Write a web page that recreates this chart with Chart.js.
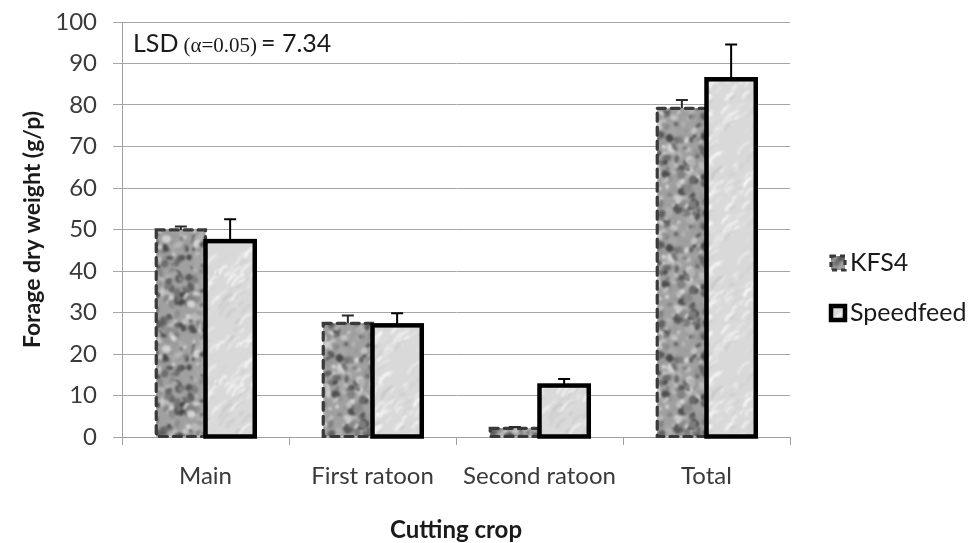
<!DOCTYPE html>
<html>
<head>
<meta charset="utf-8">
<script src="https://cdn.jsdelivr.net/npm/chart.js@4.4.1/dist/chart.umd.min.js"></script>
<style>
  html, body { margin: 0; padding: 0; background: #fff; }
  #wrap { width: 968px; height: 543px; }
</style>
</head>
<body>
<div id="wrap"><canvas id="chart" width="968" height="543"></canvas></div>
<script>
const categories = ["Main", "First ratoon", "Second ratoon", "Total"];
const kfs4 = [49.9, 27.4, 2.1, 79.2];
const kfs4Err = [0.8, 1.9, 0.3, 2.0];
const speedfeed = [47.2, 26.9, 12.4, 86.2];
const speedfeedErr = [5.3, 2.9, 1.6, 8.4];
const yTicks = { min: 0, max: 100, step: 10 };

const FONT = "Lato, 'Noto Sans', sans-serif";

// small seeded generator so the textures come out the same every run
function rng(seed) {
  return () => {
    seed |= 0; seed = (seed + 0x6D2B79F5) | 0;
    let t = Math.imul(seed ^ (seed >>> 15), 1 | seed);
    t = (t + Math.imul(t ^ (t >>> 7), 61 | t)) ^ t;
    return ((t ^ (t >>> 14)) >>> 0) / 4294967296;
  };
}

function makeTexture(size, base, paint, blur) {
  const big = document.createElement("canvas");
  big.width = big.height = size * 3;
  const b = big.getContext("2d");
  b.fillStyle = base;
  b.fillRect(0, 0, size * 3, size * 3);
  paint(b, size);
  const tile = document.createElement("canvas");
  tile.width = tile.height = size;
  const t = tile.getContext("2d");
  t.filter = `blur(${blur}px)`;
  t.drawImage(big, -size, -size);
  return document.getElementById("chart").getContext("2d").createPattern(tile, "repeat");
}

// granite look for KFS4
const granite = makeTexture(110, "#a0a0a0", (c, s) => {
  const r = rng(7);
  for (let i = 0; i < 420; i++) {
    const x = r() * s, y = r() * s, rad = 1.8 + r() * 3.2;
    const g = Math.round(70 + r() * 150);
    const squash = 0.5 + r() * 0.5, rot = r() * 3;
    c.fillStyle = `rgb(${g},${g},${g})`;
    for (let dx = 0; dx < 3; dx++) for (let dy = 0; dy < 3; dy++) {
      c.beginPath();
      c.ellipse(x + dx * s, y + dy * s, rad, rad * squash, rot, 0, Math.PI * 2);
      c.fill();
    }
  }
}, 1.3);

// pale marble look for Speedfeed
const marble = makeTexture(110, "#d9d9d9", (c, s) => {
  const r = rng(21);
  for (let i = 0; i < 200; i++) {
    const x = r() * s, y = r() * s, len = 5 + r() * 14;
    const g = Math.round(195 + r() * 60);
    const w = 0.8 + r() * 1.8;
    c.strokeStyle = `rgb(${g},${g},${g})`;
    c.lineWidth = w;
    for (let dx = 0; dx < 3; dx++) for (let dy = 0; dy < 3; dy++) {
      c.beginPath();
      c.moveTo(x + dx * s, y + dy * s);
      c.quadraticCurveTo(x + dx * s + len * 0.2, y + dy * s - len * 0.6, x + dx * s + len * 0.7, y + dy * s - len * 0.7);
      c.stroke();
    }
  }
}, 0.9);

const borderStyles = [
  { color: "#3a3a3a", width: 3.2, dash: [8, 6], cap: "round" },
  { color: "#000000", width: 4.5, dash: [], cap: "butt" },
];
const errorSets = [kfs4Err, speedfeedErr];
const errColors = ["#2a2a2a", "#000000"];

const barDecor = {
  id: "barDecor",
  afterDatasetsDraw(chart) {
    const ctx = chart.ctx;
    const y = chart.scales.y;
    chart.data.datasets.forEach((ds, di) => {
      const meta = chart.getDatasetMeta(di);
      const st = borderStyles[di];
      meta.data.forEach((bar, i) => {
        const left = bar.x - bar.width / 2;
        ctx.save();
        ctx.strokeStyle = st.color;
        ctx.lineWidth = st.width;
        ctx.setLineDash(st.dash);
        ctx.lineCap = st.cap;
        ctx.lineJoin = "miter";
        ctx.strokeRect(left, bar.y, bar.width, bar.base - bar.y);
        ctx.restore();

        // error bar above the bar
        const top = y.getPixelForValue(ds.data[i] + errorSets[di][i]);
        ctx.save();
        ctx.strokeStyle = errColors[di];
        ctx.lineWidth = 2;
        ctx.beginPath();
        ctx.moveTo(bar.x, bar.y);
        ctx.lineTo(bar.x, top);
        ctx.moveTo(bar.x - 6, top);
        ctx.lineTo(bar.x + 6, top);
        ctx.stroke();
        ctx.restore();
      });
    });
  },
  afterDraw(chart) {
    const ctx = chart.ctx;
    const area = chart.chartArea;
    // LSD note in the corner
    ctx.save();
    ctx.fillStyle = "#1a1a1a";
    ctx.textBaseline = "alphabetic";
    let x = area.left + 11;
    const base = area.top + 30;
    ctx.font = `25px ${FONT}`;
    ctx.fillText("LSD", x, base);
    x += ctx.measureText("LSD").width + 5;
    ctx.font = `21px 'Liberation Serif', serif`;
    ctx.fillText("(α=0.05)", x, base);
    x += ctx.measureText("(α=0.05)").width + 4;
    ctx.font = `25px ${FONT}`;
    ctx.fillText("= 7.34", x, base);

    // legend
    const items = [
      { label: "KFS4", fill: granite, st: borderStyles[0], y: 263 },
      { label: "Speedfeed", fill: marble, st: borderStyles[1], y: 313 },
    ];
    items.forEach((it) => {
      const bx = 831, by = it.y - 7, s = 14;
      ctx.fillStyle = it.fill;
      ctx.fillRect(bx, by, s, s);
      ctx.strokeStyle = it.st.color;
      ctx.lineWidth = it.st.width;
      ctx.setLineDash(it.st.dash.length ? [5, 4] : []);
      ctx.strokeRect(bx, by, s, s);
      ctx.setLineDash([]);
      ctx.fillStyle = "#1a1a1a";
      ctx.font = `25px ${FONT}`;
      ctx.textBaseline = "middle";
      ctx.fillText(it.label, bx + s + 5, it.y);
    });
    ctx.restore();
  },
};

new Chart(document.getElementById("chart"), {
  type: "bar",
  data: {
    labels: categories,
    datasets: [
      { label: "KFS4", data: kfs4, backgroundColor: granite, borderWidth: 0 },
      { label: "Speedfeed", data: speedfeed, backgroundColor: marble, borderWidth: 0 },
    ],
  },
  options: {
    responsive: false,
    animation: false,
    events: [],
    layout: { padding: { top: 22, right: 178, left: 0, bottom: 0 } },
    datasets: { bar: { categoryPercentage: 0.59, barPercentage: 1 } },
    plugins: { legend: { display: false }, tooltip: { enabled: false } },
    scales: {
      x: {
        afterFit: (s) => { s.height = 106; },
        grid: { drawOnChartArea: false, tickLength: 8, color: "#a0a0a0", offset: true },
        border: { color: "#a0a0a0" },
        ticks: { color: "#3a3a3a", font: { family: FONT, size: 24 }, padding: 17, maxRotation: 0, autoSkip: false },
        title: { display: true, text: "Cutting crop", color: "#1a1a1a", font: { family: FONT, size: 24, weight: "bold", lineHeight: 1 }, padding: { top: 0, bottom: 1 } },
      },
      y: {
        min: yTicks.min,
        max: yTicks.max,
        afterFit: (s) => { s.width = 122; s.paddingTop = 0; },
        grid: { color: "#a6a6a6", tickLength: 9, drawTicks: true },
        border: { color: "#a0a0a0" },
        ticks: { stepSize: yTicks.step, color: "#3a3a3a", font: { family: FONT, size: 24 }, padding: 16 },
        title: { display: true, text: "Forage dry weight (g/p)", color: "#1a1a1a", font: { family: FONT, size: 23, weight: "bold", lineHeight: 1 }, padding: { top: 21, bottom: 0 } },
      },
    },
  },
  plugins: [barDecor],
});
</script>
</body>
</html>
